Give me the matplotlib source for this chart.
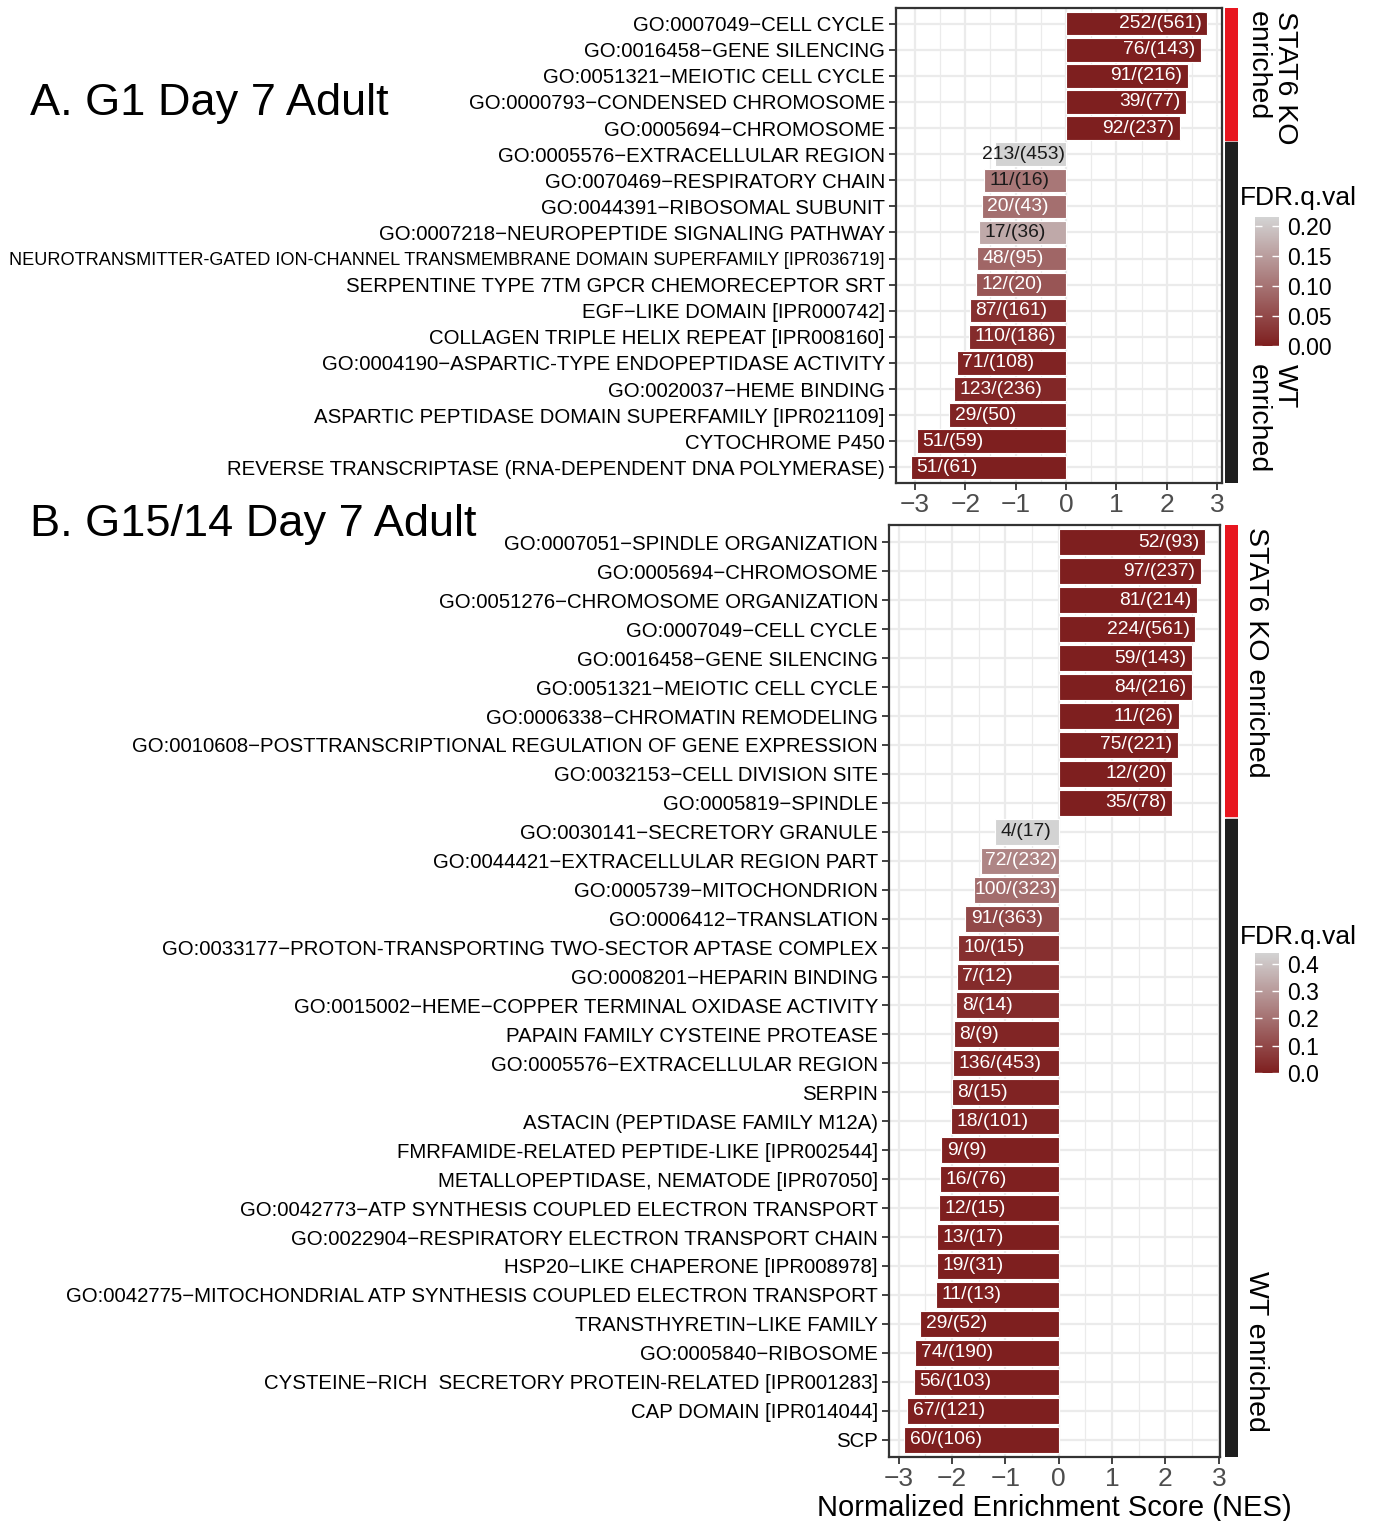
import matplotlib

matplotlib.use("Agg")
import matplotlib.pyplot as plt
import numpy as np
from matplotlib.colorbar import ColorbarBase
from matplotlib.colors import LinearSegmentedColormap, Normalize

plt.rcParams["font.family"] = ["Liberation Sans", "DejaVu Sans"]

# ---- panel A : G1 Day 7 Adult ----
terms_a = [
    "GO:0007049\u2212CELL CYCLE",
    "GO:0016458\u2212GENE SILENCING",
    "GO:0051321\u2212MEIOTIC CELL CYCLE",
    "GO:0000793\u2212CONDENSED CHROMOSOME",
    "GO:0005694\u2212CHROMOSOME",
    "GO:0005576\u2212EXTRACELLULAR REGION",
    "GO:0070469\u2212RESPIRATORY CHAIN",
    "GO:0044391\u2212RIBOSOMAL SUBUNIT",
    "GO:0007218\u2212NEUROPEPTIDE SIGNALING PATHWAY",
    "NEUROTRANSMITTER-GATED ION-CHANNEL TRANSMEMBRANE DOMAIN SUPERFAMILY [IPR036719]",
    "SERPENTINE TYPE 7TM GPCR CHEMORECEPTOR SRT",
    "EGF\u2212LIKE DOMAIN [IPR000742]",
    "COLLAGEN TRIPLE HELIX REPEAT [IPR008160]",
    "GO:0004190\u2212ASPARTIC-TYPE ENDOPEPTIDASE ACTIVITY",
    "GO:0020037\u2212HEME BINDING",
    "ASPARTIC PEPTIDASE DOMAIN SUPERFAMILY [IPR021109]",
    "CYTOCHROME P450",
    "REVERSE TRANSCRIPTASE (RNA-DEPENDENT DNA POLYMERASE)",
]
nes_a = [2.80, 2.68, 2.41, 2.38, 2.26, -1.41, -1.63, -1.67, -1.73, -1.76,
         -1.79, -1.91, -1.92, -2.17, -2.22, -2.32, -2.96, -3.08]
counts_a = ["252/(561)", "76/(143)", "91/(216)", "39/(77)", "92/(237)",
            "213/(453)", "11/(16)", "20/(43)", "17/(36)", "48/(95)", "12/(20)",
            "87/(161)", "110/(186)", "71/(108)", "123/(236)", "29/(50)",
            "51/(59)", "51/(61)"]
fdr_a = [0.0, 0.0, 0.0, 0.0, 0.0, 0.215, 0.105, 0.095, 0.165, 0.085, 0.065,
         0.02, 0.015, 0.005, 0.01, 0.005, 0.0, 0.0]
dark_a = [False] * 5 + [True, True, False, True] + [False] * 9

# ---- panel B : G15/14 Day 7 Adult ----
terms_b = [
    "GO:0007051\u2212SPINDLE ORGANIZATION",
    "GO:0005694\u2212CHROMOSOME",
    "GO:0051276\u2212CHROMOSOME ORGANIZATION",
    "GO:0007049\u2212CELL CYCLE",
    "GO:0016458\u2212GENE SILENCING",
    "GO:0051321\u2212MEIOTIC CELL CYCLE",
    "GO:0006338\u2212CHROMATIN REMODELING",
    "GO:0010608\u2212POSTTRANSCRIPTIONAL REGULATION OF GENE EXPRESSION",
    "GO:0032153\u2212CELL DIVISION SITE",
    "GO:0005819\u2212SPINDLE",
    "GO:0030141\u2212SECRETORY GRANULE",
    "GO:0044421\u2212EXTRACELLULAR REGION PART",
    "GO:0005739\u2212MITOCHONDRION",
    "GO:0006412\u2212TRANSLATION",
    "GO:0033177\u2212PROTON-TRANSPORTING TWO-SECTOR APTASE COMPLEX",
    "GO:0008201\u2212HEPARIN BINDING",
    "GO:0015002\u2212HEME\u2212COPPER TERMINAL OXIDASE ACTIVITY",
    "PAPAIN FAMILY CYSTEINE PROTEASE",
    "GO:0005576\u2212EXTRACELLULAR REGION",
    "SERPIN",
    "ASTACIN (PEPTIDASE FAMILY M12A)",
    "FMRFAMIDE-RELATED PEPTIDE-LIKE [IPR002544]",
    "METALLOPEPTIDASE, NEMATODE [IPR07050]",
    "GO:0042773\u2212ATP SYNTHESIS COUPLED ELECTRON TRANSPORT",
    "GO:0022904\u2212RESPIRATORY ELECTRON TRANSPORT CHAIN",
    "HSP20\u2212LIKE CHAPERONE [IPR008978]",
    "GO:0042775\u2212MITOCHONDRIAL ATP SYNTHESIS COUPLED ELECTRON TRANSPORT",
    "TRANSTHYRETIN\u2212LIKE FAMILY",
    "GO:0005840\u2212RIBOSOME",
    "CYSTEINE\u2212RICH  SECRETORY PROTEIN-RELATED [IPR001283]",
    "CAP DOMAIN [IPR014044]",
    "SCP",
]
nes_b = [2.74, 2.66, 2.59, 2.56, 2.50, 2.50, 2.25, 2.23, 2.13, 2.12,
         -1.19, -1.45, -1.58, -1.75, -1.89, -1.91, -1.92, -1.97, -1.99, -2.00,
         -2.02, -2.20, -2.22, -2.25, -2.28, -2.28, -2.30, -2.60, -2.69, -2.72,
         -2.84, -2.90]
counts_b = ["52/(93)", "97/(237)", "81/(214)", "224/(561)", "59/(143)",
            "84/(216)", "11/(26)", "75/(221)", "12/(20)", "35/(78)", "4/(17)",
            "72/(232)", "100/(323)", "91/(363)", "10/(15)", "7/(12)", "8/(14)",
            "8/(9)", "136/(453)", "8/(15)", "18/(101)", "9/(9)", "16/(76)",
            "12/(15)", "13/(17)", "19/(31)", "11/(13)", "29/(52)", "74/(190)",
            "56/(103)", "67/(121)", "60/(106)"]
fdr_b = [0.0] * 10 + [0.44, 0.25, 0.19, 0.10, 0.04, 0.03, 0.03, 0.015, 0.01,
                      0.01, 0.01, 0.005, 0.005, 0.0, 0.0, 0.0, 0.0, 0.0, 0.0,
                      0.0, 0.0, 0.0]
dark_b = [False] * 10 + [True] + [False] * 21

W, H = 1375, 1521
CMAP = LinearSegmentedColormap.from_list("fdr", ["#7E1F1F", "#D3D3D3"])
GRID = "#EBEBEB"


def fx(px):
    return px / W


def fy(py):
    return 1 - py / H


def panel(rect, terms, nes, counts, fdr, dark, show_xlabel):
    ax = fig.add_axes(rect)
    n = len(terms)
    y = np.arange(n)
    vmax = max(fdr)
    norm = Normalize(0, vmax)
    ax.barh(y, nes, height=0.9, color=CMAP(norm(np.array(fdr))),
            edgecolor="white", linewidth=0.8, zorder=2)

    ax.set_yticks(y, terms, fontsize=14.7)
    ax.set_xticks(range(-3, 4))
    ax.set_xticks(np.arange(-3.5, 3.6, 1.0), minor=True)
    lo, hi = min(nes), max(nes)
    pad = 0.05 * (hi - lo)
    ax.set_xlim(lo - pad, hi + pad)
    ax.set_ylim(n - 1 + 0.6, -0.6)

    labels = []
    for yi, v, lab, dk in zip(y, nes, counts, dark):
        t = ax.annotate(lab, (v, yi), xytext=(-4 if v > 0 else 4, 0),
                        textcoords="offset points",
                        ha="right" if v > 0 else "left", va="center",
                        fontsize=13.9, zorder=3,
                        color="#1A1A1A" if dk else "white")
        labels.append((t, v))

    ax.tick_params(axis="x", which="major", labelsize=19, labelcolor="#4D4D4D",
                   length=5, width=1.3, color="#333333", pad=2)
    ax.tick_params(axis="y", length=5, width=1.3, color="#333333", pad=3)
    ax.tick_params(which="minor", length=0)
    ax.grid(which="major", color=GRID, linewidth=1.6)
    ax.grid(which="minor", axis="x", color=GRID, linewidth=0.9)
    ax.set_axisbelow(True)
    for s in ax.spines.values():
        s.set_linewidth(1.6)
        s.set_color("#333333")
    if show_xlabel:
        ax.set_xlabel("Normalized Enrichment Score (NES)", fontsize=21,
                      labelpad=2)

    # direction strip on the right: red = STAT6 KO enriched, black = WT enriched
    r = ax.get_position()
    sax = fig.add_axes([fx(1225), r.y0, fx(13), r.height])
    sax.set_ylim(ax.get_ylim())
    n_pos = sum(v > 0 for v in nes)
    sax.axhspan(-0.6, n_pos - 0.55, color="#E8161F")
    sax.axhspan(n_pos - 0.45, n - 1 + 0.6, color="#1E1E1E")
    sax.axis("off")
    return ax, vmax, labels


def fit_texts(ax, labels):
    renderer = fig.canvas.get_renderer()
    # shrink a term label that would run off the left edge of the figure
    for lbl in ax.get_yticklabels():
        bb = lbl.get_window_extent(renderer)
        if bb.x0 < 10:
            lbl.set_fontsize(lbl.get_fontsize() * (bb.x1 - 10) / bb.width)
    # keep negative-bar labels from running past the zero line
    zero_px = ax.transData.transform((0, 0))[0]
    for t, v in labels:
        if v > 0:
            continue
        bb = t.get_window_extent(renderer)
        over = bb.x1 - (zero_px - 1.5)
        if over > 0:
            dx, dy = t.xyann
            t.xyann = (dx - over * 72 / fig.dpi, dy)


def colorbar(rect, vmax, ticks, fmt):
    cax = fig.add_axes(rect)
    cb = ColorbarBase(cax, cmap=CMAP, norm=Normalize(0, vmax), ticks=ticks)
    cb.outline.set_visible(False)
    cb.ax.set_yticklabels([fmt.format(t) for t in ticks])
    cb.ax.tick_params(direction="in", color="white", left=True, right=True,
                      length=5, width=1, labelsize=16.5, pad=6)


fig = plt.figure(figsize=(W / 100, H / 100), dpi=100)

ax_a, vmax_a, labels_a = panel([fx(896), fy(483), fx(1222 - 896), (483 - 8) / H],
                               terms_a, nes_a, counts_a, fdr_a, dark_a, False)
ax_b, vmax_b, labels_b = panel([fx(889), fy(1457), fx(1220 - 889), (1457 - 525) / H],
                               terms_b, nes_b, counts_b, fdr_b, dark_b, True)
fig.canvas.draw()
fit_texts(ax_a, labels_a)
fit_texts(ax_b, labels_b)

fig.text(fx(30), fy(104), "A. G1 Day 7 Adult", fontsize=32.5, va="center")
fig.text(fx(30), fy(524), "B. G15/14 Day 7 Adult", fontsize=32.5, va="center")

strip_kw = dict(rotation=-90, ha="center", va="top", multialignment="left",
                fontsize=20.5, linespacing=1.05)
fig.text(fx(1271), fy(11), "STAT6 KO\nenriched", **strip_kw)
fig.text(fx(1271), fy(364), "WT\nenriched", **strip_kw)
fig.text(fx(1256), fy(527), "STAT6 KO enriched", **strip_kw)
fig.text(fx(1256), fy(1271), "WT enriched", **strip_kw)

fig.text(fx(1240), fy(198), "FDR.q.val", fontsize=19, va="center")
colorbar([fx(1255), fy(346), fx(24), (346 - 217) / H], vmax_a,
         [0.0, 0.05, 0.10, 0.15, 0.20], "{:.2f}")
fig.text(fx(1240), fy(937), "FDR.q.val", fontsize=19, va="center")
colorbar([fx(1255), fy(1073), fx(24), (1073 - 953) / H], vmax_b,
         [0.0, 0.1, 0.2, 0.3, 0.4], "{:.1f}")

fig.savefig("out.png", dpi=100)
